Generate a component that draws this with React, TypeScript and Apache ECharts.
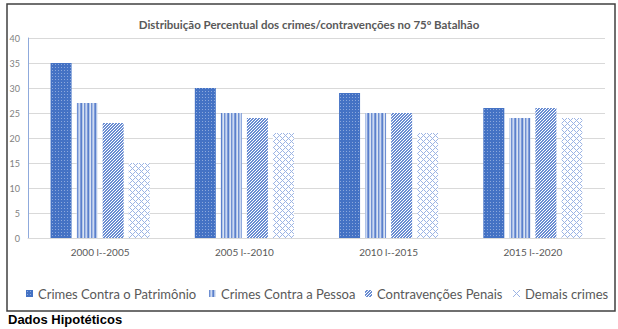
import React, { useEffect, useRef } from "react";
import * as echarts from "echarts";

const title = "Distribuição Percentual dos crimes/contravenções no 75º Batalhão";
const categories = ["2000 l--2005", "2005 l--2010", "2010 l--2015", "2015 l--2020"];
const seriesNames = ["Crimes Contra o Patrimônio", "Crimes Contra a Pessoa", "Contravenções Penais", "Demais crimes"];
const patrimonio = [35, 30, 29, 26];
const pessoa = [27, 25, 25, 24];
const contravencoes = [23, 24, 25, 26];
const demais = [15, 21, 21, 24];
const yTicks = [0, 5, 10, 15, 20, 25, 30, 35, 40];
const footnote = "Dados Hipotéticos";

function tile(w: number, h: number, px: (x: number, y: number) => string | null, bg: string): string {
  const c = document.createElement("canvas");
  c.width = w;
  c.height = h;
  const ctx = c.getContext("2d")!;
  ctx.fillStyle = bg;
  ctx.fillRect(0, 0, w, h);
  for (let y = 0; y < h; y++) {
    for (let x = 0; x < w; x++) {
      const col = px(x, y);
      if (col) {
        ctx.fillStyle = col;
        ctx.fillRect(x, y, 1, 1);
      }
    }
  }
  return c.toDataURL();
}

export default function App() {
  const ref = useRef<HTMLDivElement>(null);
  useEffect(() => {
    if (!ref.current) return;
    const chart = echarts.init(ref.current, null, { renderer: "svg" });

    const p1 = tile(3, 3, (x, y) => (x === 1 && y === 1 ? "#8CA8DC" : null), "#4472C4");
    const stripeCols = ["#6E8FD2", "#A7BCE6", "#CCD9F1", "#7F9CD8", "#5A7FCC", "#B4C7E7", "#DAE3F3"];
    const p2 = tile(7, 2, (x) => stripeCols[x], "#ffffff");
    const p3 = tile(3, 3, (x, y) => ((x + y) % 3 !== 0 ? "#6A8DD2" : null), "#ffffff");
    const p4 = tile(6, 6, (x, y) => ((x + y) % 6 === 0 || (x - y + 6) % 6 === 0 ? "#9CB4E4" : null), "#ffffff");
    const pats = [p1, p2, p3, p4];
    const data = [patrimonio, pessoa, contravencoes, demais];
    const legendLeft = [21, 204, 360, 508];

    const font = "Lato, 'Open Sans', sans-serif";

    chart.setOption({
      animation: false,
      title: {
        text: title,
        left: "center",
        top: 13,
        textStyle: { fontFamily: font, fontSize: 11.5, fontWeight: "bold", color: "#595959" },
      },
      legend: seriesNames.map((n, i) => ({
        data: [n],
        left: legendLeft[i],
        top: 282,
        itemWidth: 7,
        itemHeight: 7,
        itemGap: 5,
        icon: "rect",
        textStyle: { fontFamily: font, fontSize: 13, color: "#595959", padding: [0, 0, 0, 0] },
      })),
      grid: { left: 28, right: 13, top: 38, bottom: 91, containLabel: false },
      xAxis: {
        type: "category",
        data: categories,
        axisLine: { show: true, lineStyle: { color: "#D9D9D9" } },
        axisTick: { show: false },
        axisLabel: { fontFamily: font, fontSize: 10, color: "#595959", margin: 9 },
      },
      yAxis: {
        type: "value",
        min: 0,
        max: 40,
        interval: 5,
        axisLine: { show: true, lineStyle: { color: "#8FAADC" } },
        axisTick: { show: false },
        splitLine: { lineStyle: { color: "#D9D9D9" } },
        axisLabel: { fontFamily: font, fontSize: 9, color: "#7F7F7F", margin: 8,
          formatter: (v: number) => (yTicks.includes(v) ? String(v) : "") },
      },
      series: seriesNames.map((n, i) => ({
        name: n,
        type: "bar",
        data: data[i],
        barWidth: 21,
        barGap: "24%",
        itemStyle: { color: { image: pats[i], repeat: "repeat" } },
      })),
      graphic: [
        {
          type: "rect",
          shape: { x: 7, y: 4, width: 608, height: 307 },
          style: { fill: "none", stroke: "#404040", lineWidth: 1.5 },
          silent: true,
        },
        {
          type: "text",
          left: 8,
          top: 313,
          style: { text: footnote, font: "bold 13px 'Liberation Sans', Arial, sans-serif", fill: "#000" },
        },
      ],
    });
    return () => chart.dispose();
  }, []);
  return (
    <div style={{ position: "fixed", left: 0, top: 0, width: 618, height: 329, background: "#fff" }}>
      <div ref={ref} style={{ width: 618, height: 329 }} />
    </div>
  );
}
